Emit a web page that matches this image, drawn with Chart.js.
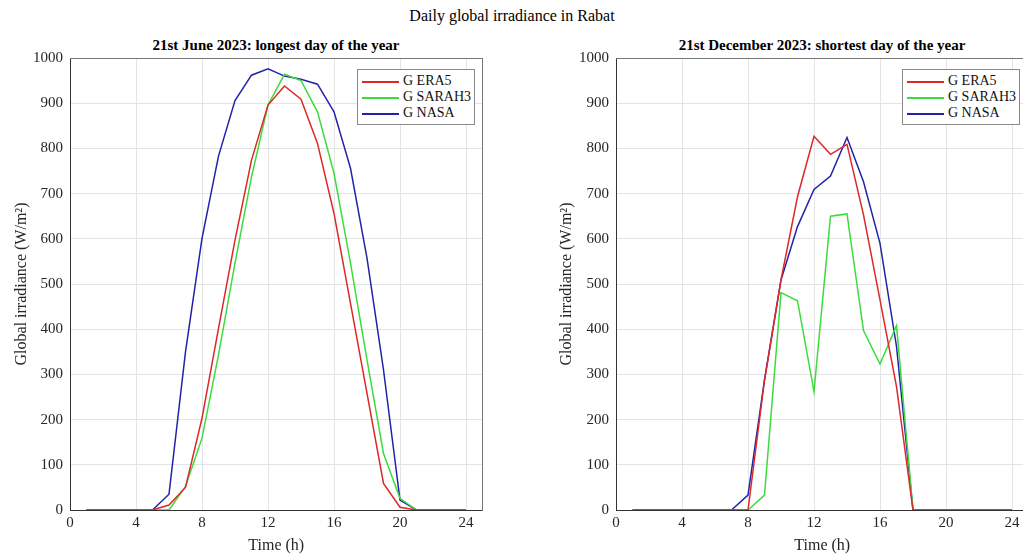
<!DOCTYPE html>
<html>
<head>
<meta charset="utf-8">
<script src="https://cdn.jsdelivr.net/npm/chart.js@4/dist/chart.umd.min.js"></script>
<style>
  body { margin: 0; width: 1023px; height: 555px; overflow: hidden; background: #fff; font-family: 'Liberation Serif', serif; }
  canvas { position: absolute; top: 0; }
  .ttl { position: absolute; white-space: nowrap; transform: translateX(-50%); color: #000; }
  .legend { position: absolute; background: #fff; border: 1px solid #8a8a8a; padding: 3px 2px 3px 4px; font-size: 14px; color: #111; }
  .legend div { height: 16px; line-height: 16px; white-space: nowrap; }
  .legend span.ln { display: inline-block; width: 37px; height: 2px; vertical-align: middle; margin-right: 4px; }
</style>
</head>
<body>
<div class="ttl" style="left:512px; top:7px; font-size:16px;">Daily global irradiance in Rabat</div>
<div class="ttl" style="left:276px; top:37px; font-size:15px; font-weight:bold;">21st June 2023: longest day of the year</div>
<div class="ttl" style="left:822px; top:37px; font-size:15px; font-weight:bold;">21st December 2023: shortest day of the year</div>
<canvas id="juneChart" width="511" height="555" style="left:0px"></canvas>
<canvas id="decChart" width="530" height="555" style="left:511px"></canvas>
<div class="legend" id="juneLegend" style="left:357px; top:69px; width:110px;"></div>
<div class="legend" id="decLegend" style="left:902px; top:69px; width:110px;"></div>
<script>
// Hours of the day
const hours = [1, 2, 3, 4, 5, 6, 7, 8, 9, 10, 11, 12, 13, 14, 15, 16, 17, 18, 19, 20, 21, 22, 23, 24];
const seriesNames = ['G ERA5', 'G SARAH3', 'G NASA'];
const seriesColors = ['rgb(220,40,40)', 'rgb(60,220,60)', 'rgb(35,35,170)'];

// 21st June 2023 (W/m2)
const juneEra5   = [0, 0, 0, 0, 0, 11, 50, 203, 402, 597, 774, 896, 938, 909, 811, 656, 457, 258, 59, 6, 0, 0, 0, 0];
const juneSarah3 = [0, 0, 0, 0, 0, 0, 52, 159, 343, 546, 737, 896, 964, 950, 881, 745, 546, 332, 125, 26, 0, 0, 0, 0];
const juneNasa   = [0, 0, 0, 0, 0, 35, 350, 601, 783, 906, 962, 976, 960, 953, 942, 881, 756, 557, 310, 22, 0, 0, 0, 0];

// 21st December 2023 (W/m2)
const decEra5   = [0, 0, 0, 0, 0, 0, 0, 0, 287, 509, 693, 827, 787, 809, 653, 465, 273, 0, 0, 0, 0, 0, 0, 0];
const decSarah3 = [0, 0, 0, 0, 0, 0, 0, 0, 33, 481, 463, 262, 650, 655, 397, 323, 408, 0, 0, 0, 0, 0, 0, 0];
const decNasa   = [0, 0, 0, 0, 0, 0, 0, 33, 288, 509, 627, 709, 739, 824, 726, 590, 362, 0, 0, 0, 0, 0, 0, 0];

const xTicks = [0, 4, 8, 12, 16, 20, 24];

const serif = 'Liberation Serif';
const axisColor = '#333';
const gridColor = '#e4e4e4';

function makeChart(id, series, pad, yWidth) {
    const datasets = series.map((vals, i) => ({
        label: seriesNames[i],
        data: hours.map((h, k) => ({ x: h, y: vals[k] })),
        borderColor: seriesColors[i],
        borderWidth: 1.5,
        pointRadius: 0,
        tension: 0,
        fill: false
    }));
    return new Chart(document.getElementById(id).getContext('2d'), {
        type: 'line',
        data: { datasets },
        options: {
            responsive: false,
            animation: false,
            layout: { padding: pad },
            plugins: { legend: { display: false }, tooltip: { enabled: false } },
            scales: {
                x: {
                    type: 'linear', min: 0, max: 25,
                    afterBuildTicks: s => { s.ticks = xTicks.map(v => ({ value: v })); },
                    afterFit: s => { s.height = 45; },
                    grid: { color: gridColor, drawTicks: false },
                    border: { color: axisColor },
                    ticks: { padding: 4, color: '#262626', font: { family: serif, size: 15 }, callback: v => String(v) },
                    title: { display: true, text: 'Time (h)', color: '#262626', padding: { top: 0, bottom: 0 }, font: { family: serif, size: 16 } }
                },
                y: {
                    min: 0, max: 1000,
                    afterFit: s => { s.width = yWidth; },
                    grid: { color: gridColor, drawTicks: false },
                    border: { color: axisColor },
                    ticks: { stepSize: 100, padding: 7, color: '#262626', font: { family: serif, size: 15 }, callback: v => String(v) },
                    title: { display: true, text: 'Global irradiance (W/m²)', color: '#262626', font: { family: serif, size: 16 } }
                },
                xTop: {
                    type: 'linear', position: 'top', min: 0, max: 25,
                    afterFit: s => { s.height = 0; },
                    grid: { drawOnChartArea: false, drawTicks: false },
                    border: { color: '#777' },
                    ticks: { display: false }
                },
                yRight: {
                    type: 'linear', position: 'right', min: 0, max: 1000,
                    afterFit: s => { s.width = 0; },
                    grid: { drawOnChartArea: false, drawTicks: false },
                    border: { color: '#777' },
                    ticks: { display: false }
                }
            }
        }
    });
}

function makeLegend(id) {
    const el = document.getElementById(id);
    el.innerHTML = seriesNames.map((n, i) =>
        '<div><span class="ln" style="background-color:' + seriesColors[i] + '"></span>' + n + '</div>').join('');
}

makeChart('juneChart', [juneEra5, juneSarah3, juneNasa], { left: 8, right: 28.5, top: 58, bottom: 0 }, 62);
makeChart('decChart', [decEra5, decSarah3, decNasa], { left: 42, right: 12.5, top: 58, bottom: 0 }, 63);
makeLegend('juneLegend');
makeLegend('decLegend');
</script>
</body>
</html>
